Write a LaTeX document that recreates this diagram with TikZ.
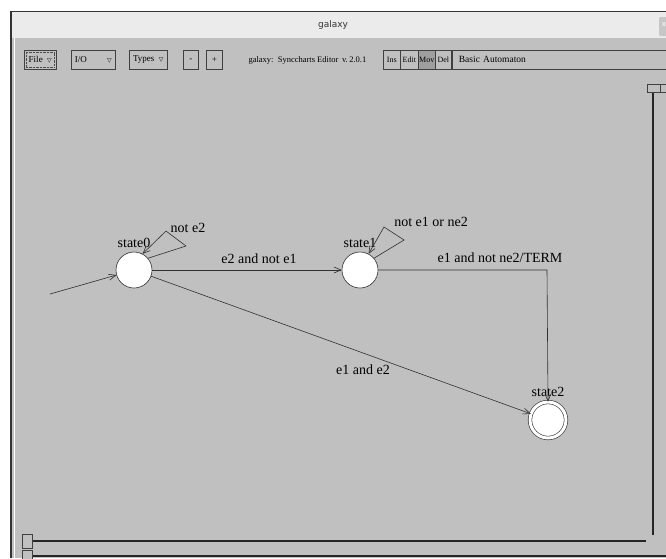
\documentclass[tikz,border=0pt]{standalone}
\usepackage{fontspec}
\setmainfont{Liberation Serif}
\newfontfamily\symfont{DejaVu Sans}
\newfontfamily\uifont{DejaVu Sans}
\usetikzlibrary{arrows.meta}
\definecolor{bodygray}{HTML}{C0C0C0}
\definecolor{titlegray}{HTML}{EBEBEB}
\definecolor{edgecol}{HTML}{303030}
\tikzset{
  stt/.style={circle,draw=edgecol,fill=white,minimum size=36pt,inner sep=0pt,line width=0.6pt},
  fin/.style={stt,double=white,double distance=3pt},
  lbl/.style={font=\fontsize{14}{14}\selectfont,inner sep=0pt,text=black},
  tr/.style={draw=edgecol,line width=0.6pt,-{Straight Barb[length=7pt,width=6pt]}},
  btn/.style={draw=gray!50!black,fill=bodygray,line width=0.6pt,font=\fontsize{9}{9}\selectfont,inner sep=0pt,anchor=north west},
  pbtn/.style={btn,fill=gray!75},
  bar/.style={line width=1.6pt,draw=black!85},
}
\begin{document}
\begin{tikzpicture}[x=1pt,y=-1pt]
\useasboundingbox (0,0) rectangle (666,558);
\fill[white] (0,0) rectangle (666,558);
% window
\fill[titlegray] (10,11) rectangle (666,38);
\fill[bodygray] (10,38) rectangle (666,558);
\draw[black!80,line width=1.2pt] (11,558) -- (11,11.5) -- (666,11.5);
\draw[white,line width=0.8pt] (14,558) -- (14,38);
\node[font=\uifont\fontsize{9}{9}\selectfont,text=black!80] (title) at (333,25) {galaxy};
\fill[gray!45,rounded corners=2pt] (659,17) rectangle (672,36);
\node[font=\uifont\fontsize{7}{7}\selectfont,text=white] (close) at (664,25) {x};
% toolbar
\node[btn,minimum width=32pt,minimum height=19pt] (file) at (24,50) {File \ {\symfont\fontsize{6}{6}\selectfont ▽}};
\draw[densely dotted,black!70] ([shift={(2pt,-2pt)}]file.north west) rectangle ([shift={(-2pt,2pt)}]file.south east);
\node[btn,minimum width=44pt,minimum height=19pt] (io) at (71,50) {I/O \qquad {\symfont\fontsize{6}{6}\selectfont ▽}};
\node[btn,minimum width=38pt,minimum height=19pt] (types) at (129,50) {Types \ {\symfont\fontsize{6}{6}\selectfont ▽}};
\node[btn,minimum width=15pt,minimum height=19pt] (minus) at (183,50) {-};
\node[btn,minimum width=16pt,minimum height=19pt] (plus) at (206,50) {+};
\node[font=\fontsize{8.5}{8.5}\selectfont,anchor=west] (ed) at (245,60) {galaxy:\, Synccharts Editor\, v.\,2.0.1};
\node[btn,minimum width=17pt,minimum height=19pt,font=\fontsize{8}{8}\selectfont] (ins) at (383,50) {Ins};
\node[btn,minimum width=18pt,minimum height=19pt,font=\fontsize{8}{8}\selectfont] (edit) at (400,50) {Edit};
\node[pbtn,minimum width=17pt,minimum height=19pt,font=\fontsize{8}{8}\selectfont] (mov) at (418,50) {Mov};
\node[btn,minimum width=16pt,minimum height=19pt,font=\fontsize{8}{8}\selectfont] (del) at (435,50) {Del};
\node[btn,minimum width=220pt,minimum height=19pt,text width=210pt,align=left,font=\fontsize{9.5}{9.5}\selectfont] (basic) at (452,50) {\,Basic Automaton};
% scrollbars
\draw[bar] (653,92) -- (653,535);
\draw[btn,anchor=center] (647,84) rectangle (660,92);
\draw[btn,anchor=center] (660,84) rectangle (670,92);
\draw[bar] (28,541) -- (646,541);
\draw[bar] (28,556) -- (666,556);
\draw[btn,anchor=center] (22,534) rectangle (32,548);
\draw[btn,anchor=center] (22,550) rectangle (32,560);
% states
\node[stt] (s0) at (134,270) {};
\node[stt] (s1) at (360,270) {};
\node[fin] (s2) at (548,420) {};
\node[lbl] (l0) at (134,243) {state0};
\node[lbl] (l1) at (360,243) {state1};
\node[lbl] (l2) at (548,392) {state2};
\coordinate (init) at (50,294);
\draw[tr] (init) -- (s0);
% transitions
\draw[tr] (s0) -- (s1);
\node[lbl] (t01) at (259,259) {e2 and not e1};
\coordinate (corner) at (547,270);
\draw[tr] (s1.east) -- (corner) -- (s2.north);
\node[lbl] (t12) at (500,258) {e1 and not ne2/TERM};
\draw[tr] (s0) -- (s2);
\node[lbl] (t02) at (363,370) {e1 and e2};
% self loops
\coordinate (a0) at (166,231);
\coordinate (b0) at (186,246);
\draw[tr] (s0.40) -- (b0) -- (a0) -- (s0.62);
\node[lbl] (t00) at (188,228) {not e2};
\coordinate (a1) at (384,227);
\coordinate (b1) at (404,240);
\draw[tr] (s1.40) -- (b1) -- (a1) -- (s1.62);
\node[lbl] (t11) at (431,222) {not e1 or ne2};
\end{tikzpicture}
\end{document}
